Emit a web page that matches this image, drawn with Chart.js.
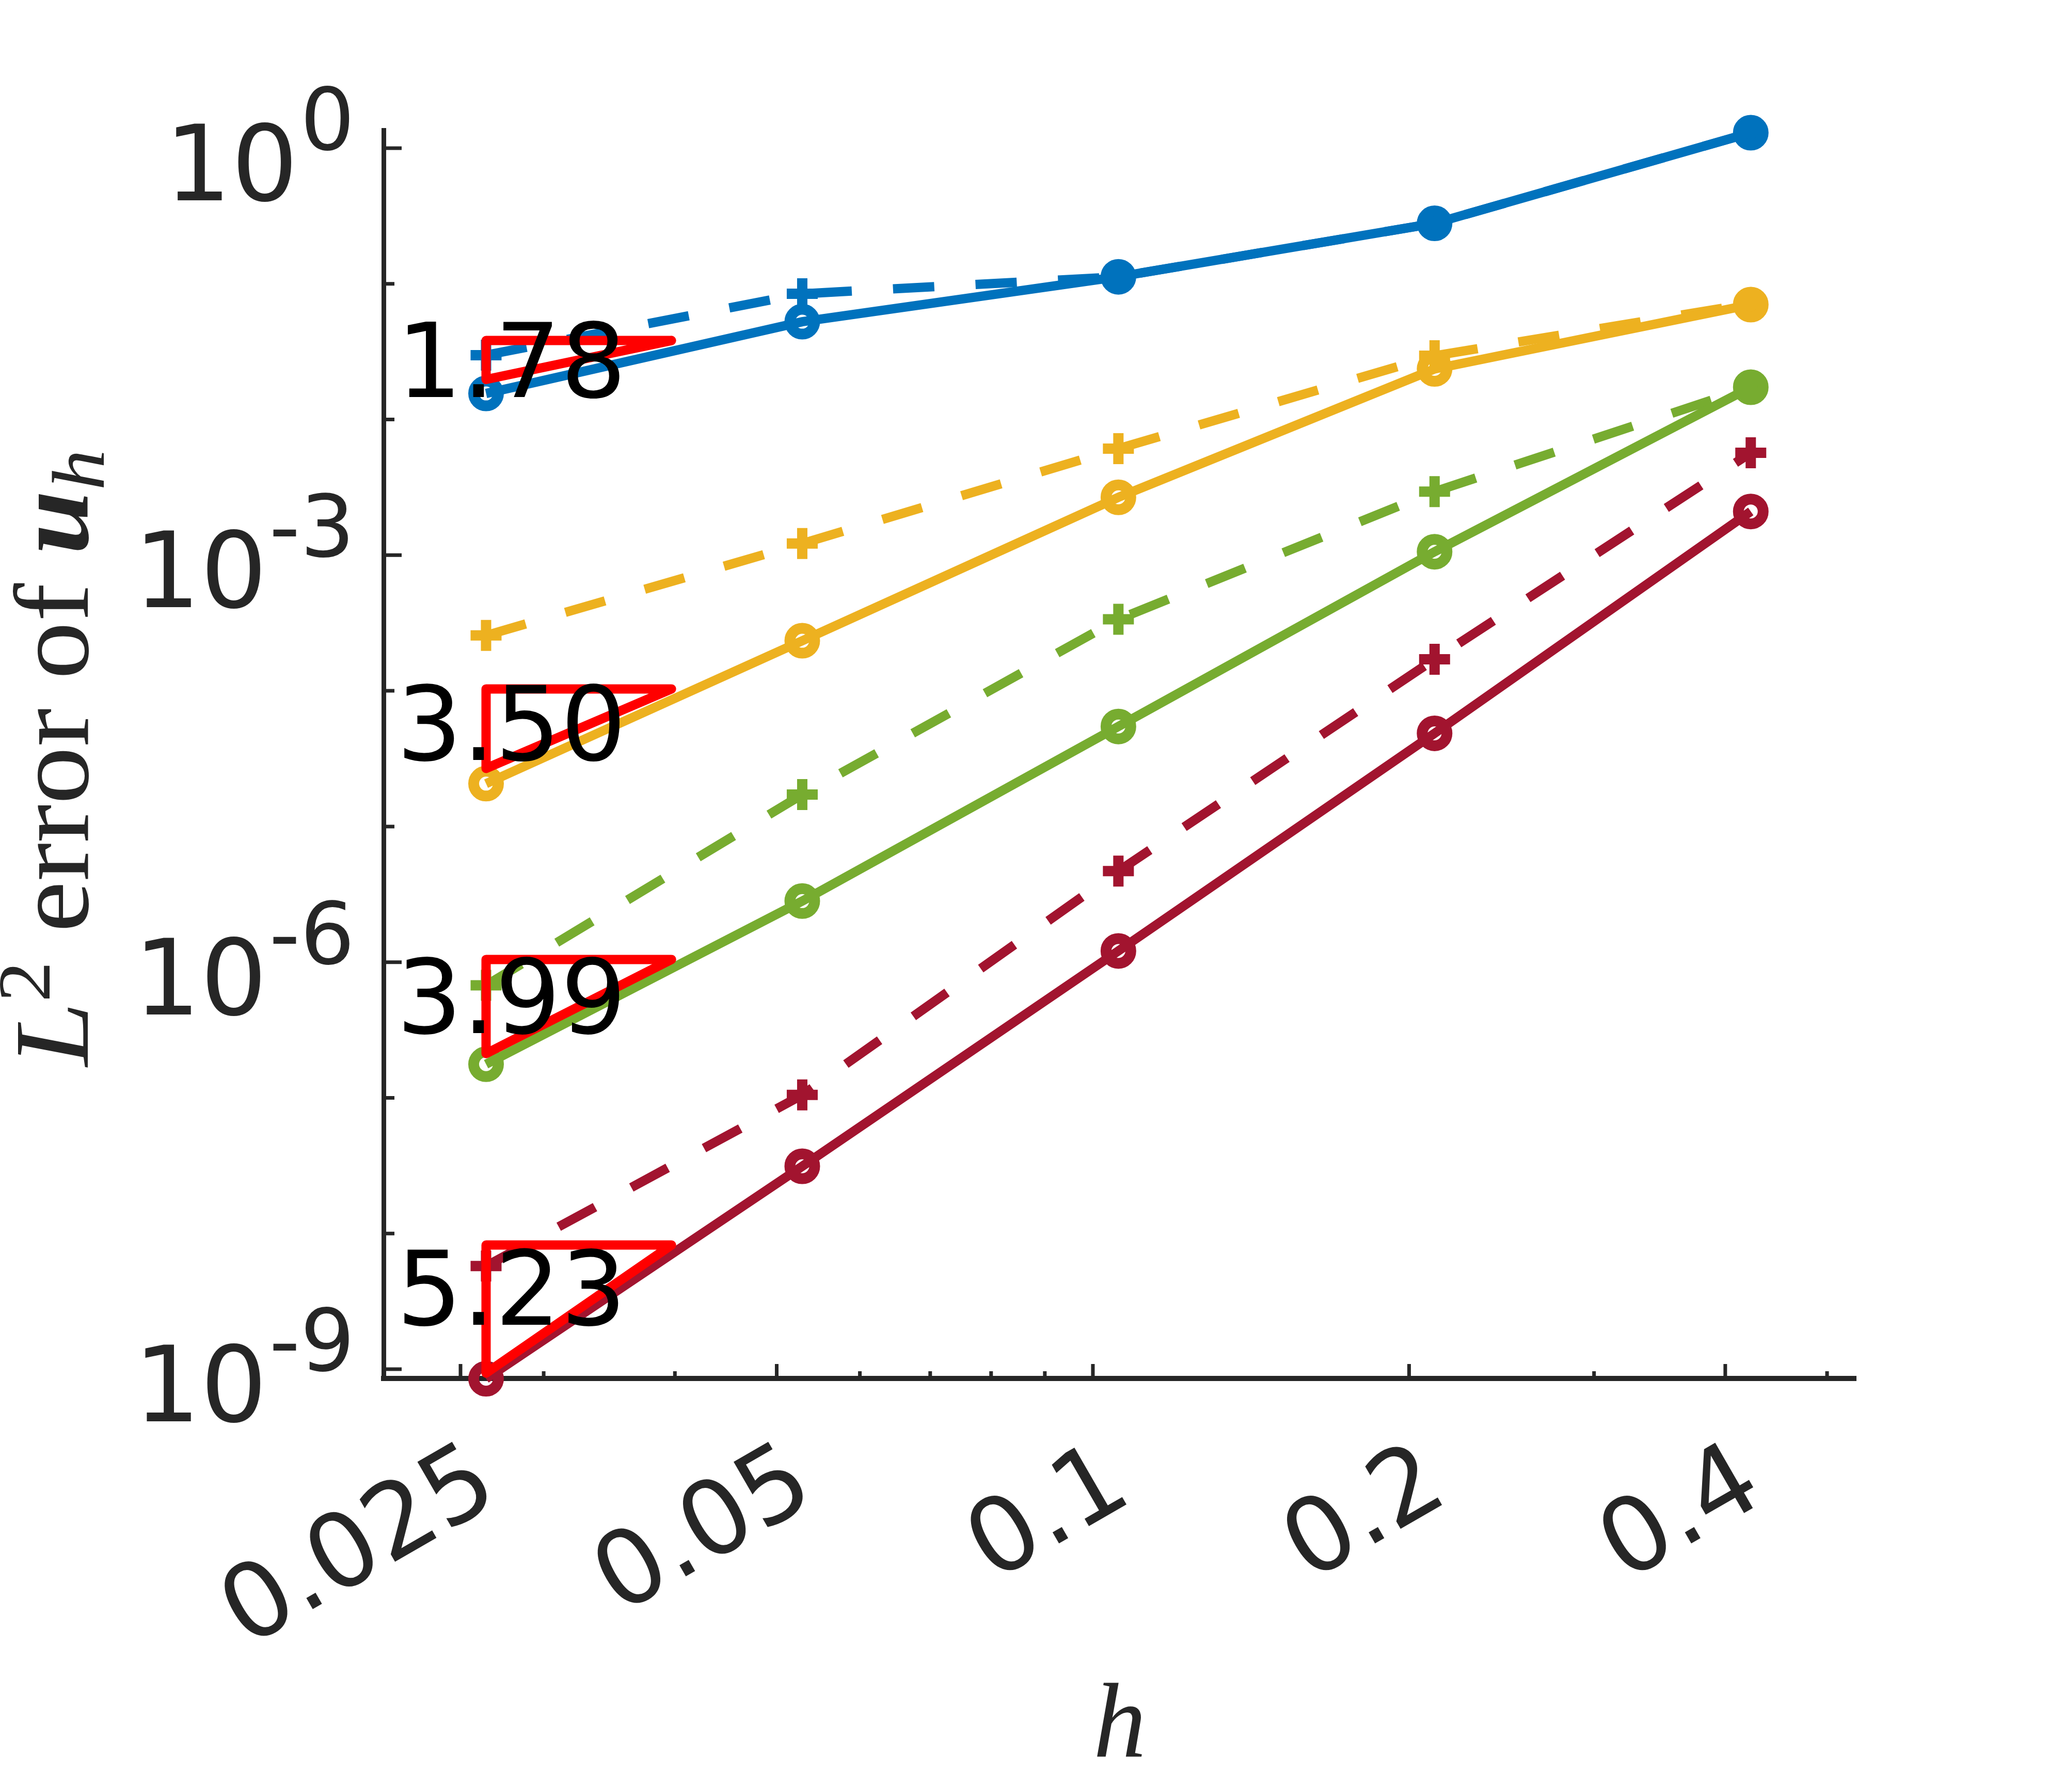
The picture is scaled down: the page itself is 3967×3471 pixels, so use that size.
<!DOCTYPE html>
<html>
<head>
<meta charset="utf-8">
<script src="https://cdn.jsdelivr.net/npm/chart.js@4.4.0/dist/chart.umd.min.js"></script>
<style>
html,body{margin:0;padding:0;background:#ffffff;}
canvas{display:block;}
</style>
</head>
<body>
<canvas id="c" width="3967" height="3471" style="width:3967px;height:3471px"></canvas>
<script>
// ---------- data ----------
const hValues = [0.02644, 0.05288, 0.10575, 0.2115, 0.423];

const xTickValues = [0.025, 0.05, 0.1, 0.2, 0.4];
const xTickLabels = ['0.025', '0.05', '0.1', '0.2', '0.4'];
const xMinorTicks = [0.03, 0.04, 0.06, 0.07, 0.08, 0.09, 0.3, 0.5];
const yTickValues = [1e0, 1e-3, 1e-6, 1e-9];
const yTickExponents = ['0', '-3', '-6', '-9'];
const yMinorTicks = [1e-1, 1e-2, 1e-4, 1e-5, 1e-7, 1e-8];

const blueSolid   = [0.01556, 0.0526, 0.1127, 0.2793, 1.30];
const blueDashed  = [0.0298, 0.0845, 0.1127, 0.2793, 1.30];
const yellowSolid = [2.07e-5, 2.34e-4, 2.67e-3, 0.0236, 0.0703];
const yellowDashed= [2.56e-4, 1.22e-3, 6.10e-3, 0.0295, 0.0715];
const greenSolid  = [1.77e-7, 2.82e-6, 5.46e-5, 1.06e-3, 0.0173];
const greenDashed = [6.75e-7, 1.72e-5, 3.37e-4, 2.94e-3, 0.0173];
const redSolid    = [8.5e-10, 3.13e-8, 1.21e-6, 4.86e-5, 2.10e-3];
const redDashed   = [5.75e-9, 1.05e-7, 4.69e-6, 1.71e-4, 5.68e-3];

// which circle markers of the solid series are filled
const blueFilled   = [false, false, true, true, true];
const yellowFilled = [false, false, false, false, true];
const greenFilled  = [false, false, false, false, true];
const redFilled    = [false, false, false, false, false];

// slope triangles (values) and their labels
const rateLabels = ['1.78', '3.50', '3.99', '5.23'];
const triLow  = [0.01972, 2.68e-5, 2.12e-7, 9.35e-10];
const triHigh = [0.0382, 1.033e-4, 1.047e-6, 8.22e-9];
const triRightH = 0.0397;               // right end of every triangle (h)
const rateLabelH = 0.02795;             // h where labels are centred
const rateLabelY = [0.02773, 5.85e-5, 5.71e-7, 4.01e-9];

const yMin = 8.54e-10, yMax = 1.359;
const xMin = 0.02112, xMax = 0.5327;

// ---------- styling ----------
const AXIS = '#262626';
const BLUE = '#0072BD', YELLOW = '#EDB120', GREEN = '#77AC30', RED = '#A2142F';
const TRI = '#FF0000';

function pts(vals) { return vals.map((v, i) => ({x: hValues[i], y: v})); }

function solidSet(vals, color, filled) {
  return {
    data: pts(vals), borderColor: color, borderWidth: 18,
    pointStyle: 'circle', pointRadius: 24, pointBorderWidth: 21,
    pointBorderColor: color,
    pointBackgroundColor: filled.map(f => f ? color : 'rgba(0,0,0,0)'),
    tension: 0, clip: false, order: 2, fill: false
  };
}
function dashedSet(vals, color) {
  return {
    data: pts(vals), borderColor: color, borderWidth: 18, borderDash: [80, 80],
    borderCapStyle: 'butt',
    pointStyle: 'cross', pointRadius: 30, pointBorderWidth: 20,
    pointBorderColor: color, pointBackgroundColor: color,
    tension: 0, clip: false, order: 3, fill: false
  };
}
function triSet(i) {
  const x0 = hValues[0];
  return {
    data: [
      {x: triRightH, y: triHigh[i]}, {x: x0, y: triHigh[i]},
      {x: x0, y: triLow[i]}, {x: triRightH, y: triHigh[i]}
    ],
    borderColor: TRI, borderWidth: 18, pointRadius: 0,
    borderJoinStyle: 'round', borderCapStyle: 'round',
    tension: 0, clip: false, order: 0, fill: false
  };
}

const datasets = [
  triSet(0), triSet(1), triSet(2), triSet(3),
  solidSet(blueSolid, BLUE, blueFilled),
  solidSet(yellowSolid, YELLOW, yellowFilled),
  solidSet(greenSolid, GREEN, greenFilled),
  solidSet(redSolid, RED, redFilled),
  dashedSet(blueDashed, BLUE),
  dashedSet(yellowDashed, YELLOW),
  dashedSet(greenDashed, GREEN),
  dashedSet(redDashed, RED)
];

const matlabPlugin = {
  id: 'matlabLook',
  beforeDatasetsDraw(chart) {
    const {ctx, chartArea: a, scales: {x, y}} = chart;
    ctx.save();
    ctx.strokeStyle = AXIS; ctx.lineWidth = 7; ctx.lineCap = 'butt';
    ctx.beginPath();
    xTickValues.forEach(v => { const p = x.getPixelForValue(v); ctx.moveTo(p, a.bottom); ctx.lineTo(p, a.bottom - 28); });
    xMinorTicks.forEach(v => { const p = x.getPixelForValue(v); ctx.moveTo(p, a.bottom); ctx.lineTo(p, a.bottom - 14); });
    yTickValues.forEach(v => { const p = y.getPixelForValue(v); ctx.moveTo(a.left, p); ctx.lineTo(a.left + 35, p); });
    yMinorTicks.forEach(v => { const p = y.getPixelForValue(v); ctx.moveTo(a.left, p); ctx.lineTo(a.left + 21, p); });
    ctx.stroke();
    ctx.restore();
  },
  afterDatasetsDraw(chart) {
    const {ctx, scales: {x, y}} = chart;
    ctx.save();
    ctx.fillStyle = '#000000';
    ctx.font = '200px "DejaVu Sans"';
    ctx.textAlign = 'center';
    ctx.textBaseline = 'alphabetic';
    rateLabels.forEach((t, i) => {
      ctx.fillText(t, x.getPixelForValue(rateLabelH), y.getPixelForValue(rateLabelY[i]) + 73);
    });
    ctx.restore();
  },
  afterDraw(chart) {
    const {ctx, chartArea: a, scales: {y}} = chart;
    ctx.save();
    ctx.fillStyle = AXIS;
    ctx.textBaseline = 'alphabetic';
    // y tick labels 10^k
    yTickValues.forEach((v, i) => {
      const p = y.getPixelForValue(v);
      const expRight = a.left - 56;
      ctx.font = '166px "DejaVu Sans"';
      ctx.textAlign = 'right';
      const ew = ctx.measureText(yTickExponents[i]).width;
      ctx.fillText(yTickExponents[i], expRight, p + 3);
      ctx.font = '203px "DejaVu Sans"';
      ctx.fillText('10', expRight - ew - 4, p + 101);
    });
    // y axis title: L^2 error of u_h
    const serif = '"Liberation Serif"';
    const parts = [
      {t: 'L', f: 'italic 205px ' + serif, dy: 0},
      {t: '2', f: '145px ' + serif, dy: -74},
      {t: ' error of ', f: '205px ' + serif, dy: 0},
      {t: 'u', f: 'italic bold 205px ' + serif, dy: 0},
      {t: 'h', f: 'italic 145px ' + serif, dy: 31}
    ];
    let total = 0;
    parts.forEach(p => { ctx.font = p.f; p.w = ctx.measureText(p.t).width; total += p.w; });
    ctx.translate(170, (a.top + a.bottom) / 2 + 7);
    ctx.rotate(-Math.PI / 2);
    ctx.scale(1.09, 1);
    ctx.textAlign = 'left';
    let cx = -total / 2;
    parts.forEach(p => { ctx.font = p.f; ctx.fillText(p.t, cx, p.dy); cx += p.w; });
    ctx.setTransform(1, 0, 0, 1, 0, 0);
    // x axis title
    ctx.font = 'italic 205px ' + serif;
    ctx.textAlign = 'center';
    ctx.fillText('h', (a.left + a.right) / 2, a.bottom + 732);
    ctx.restore();
  }
};

new Chart(document.getElementById('c'), {
  type: 'line',
  data: {datasets},
  options: {
    responsive: false,
    devicePixelRatio: 1,
    animation: false,
    events: [],
    layout: {padding: {left: 0, top: 252, right: 372, bottom: 0}},
    plugins: {legend: {display: false}, tooltip: {enabled: false}, title: {display: false}},
    scales: {
      x: {
        type: 'logarithmic', position: 'bottom', min: xMin, max: xMax,
        afterBuildTicks: (s) => { s.ticks = xTickValues.map(v => ({value: v})); },
        afterFit: (s) => { s.height = 801; },
        grid: {display: false, drawTicks: false},
        border: {display: true, color: AXIS, width: 10},
        ticks: {
          display: true, autoSkip: false, minRotation: 30, maxRotation: 30,
          padding: 86, labelOffset: 55, color: AXIS,
          font: {family: 'DejaVu Sans', size: 200},
          callback: (v, i) => xTickLabels[i]
        }
      },
      y: {
        type: 'logarithmic', position: 'left', min: yMin, max: yMax,
        afterBuildTicks: (s) => { s.ticks = yTickValues.map(v => ({value: v})); },
        afterFit: (s) => { s.width = 743; },
        grid: {display: false, drawTicks: false},
        border: {display: true, color: AXIS, width: 9},
        ticks: {display: false}
      }
    }
  },
  plugins: [matlabPlugin]
});
</script>
</body>
</html>
